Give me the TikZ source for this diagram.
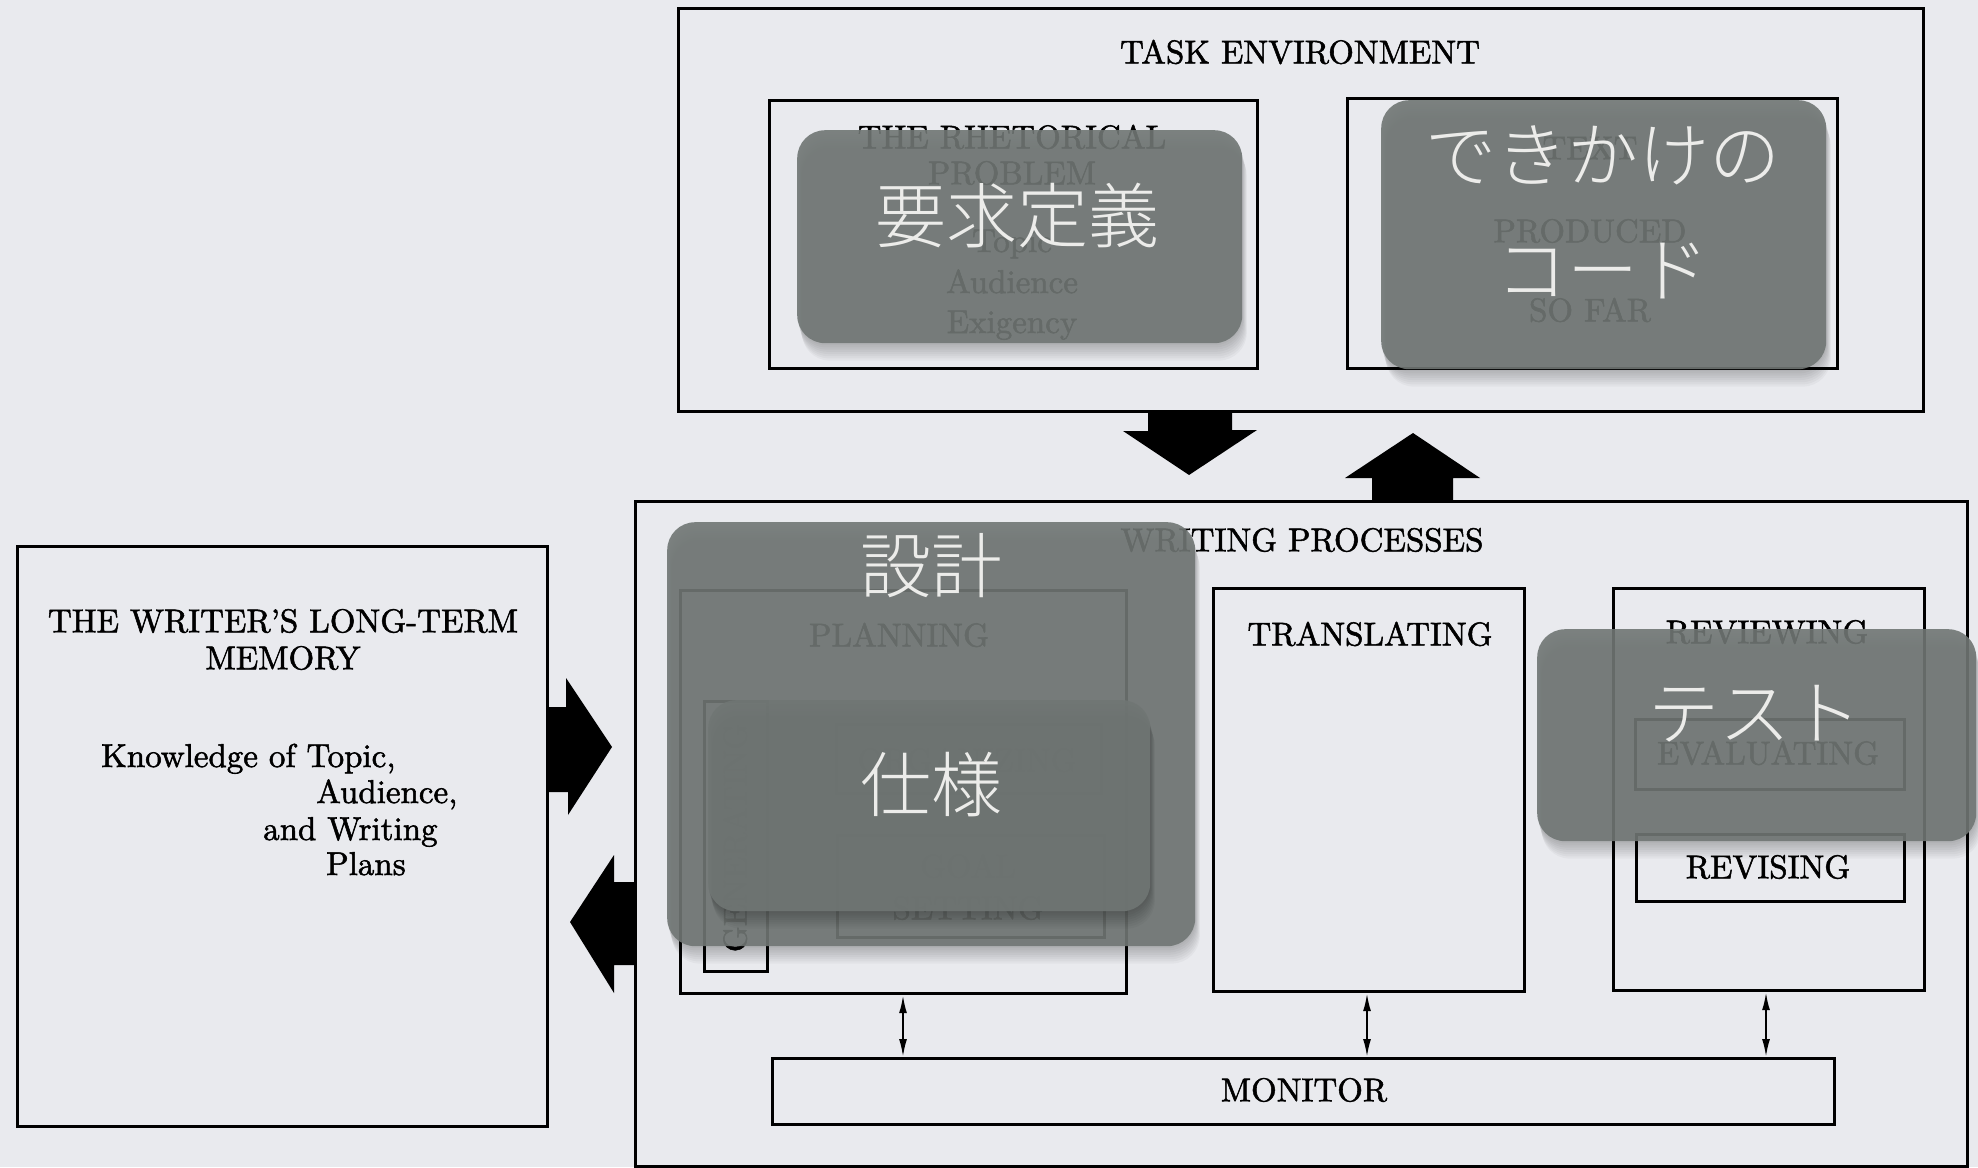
\documentclass[tikz,border=0pt]{standalone}
\usepackage{fontspec}
\IfFontExistsTF{Noto Sans CJK JP Light}{\newfontfamily\jpfont{Noto Sans CJK JP Light}}{\newfontfamily\jpfont{Noto Sans CJK JP}}
\newfontfamily\lblfont{lmroman10-regular.otf}[Ligatures=TeX, FakeBold=1.6]
\usetikzlibrary{arrows.meta}
\definecolor{bgc}{RGB}{233,234,238}
\definecolor{ovc}{RGB}{112,118,116}
\definecolor{jpc}{RGB}{236,236,234}
\tikzset{
 diagbox/.style={draw=black, line width=3.2pt, inner sep=0pt, anchor=north west},
 lbl/.style={font=\lblfont\fontsize{33}{40}\selectfont, text=black, inner sep=0pt},
 ovbox/.style={fill=ovc, fill opacity=0.9, draw=none, rounded corners=28pt, inner sep=0pt, anchor=north west},
 jp/.style={font=\jpfont\fontsize{71}{115}\selectfont, text=jpc, align=center, inner sep=0pt},
 blockarrow/.style={fill=black},
 monlink/.style={{Latex[length=18pt,width=8pt]}-{Latex[length=18pt,width=8pt]}, line width=2pt},
}
\newcommand\mkbox[6][diagbox]{\node[#1, minimum width={(#5-#3)*1pt}, minimum height={(#6-#4)*1pt}] (#2) at (#3,#4) {};}
\newcommand\softshadow[4]{\foreach \k in {1,...,8}{\fill[black, opacity=0.03, rounded corners=28pt] ({#1+\k*0.6},{#2+\k*2.2}) rectangle ({#3+\k*0.6},{#4+\k*2.2});}}
\begin{document}
\begin{tikzpicture}[x=1pt, y=-1pt]
\useasboundingbox (0,0) rectangle (1978,1167);
\fill[bgc] (0,0) rectangle (1978,1167);

% ---------- task environment ----------
\mkbox{te}{677}{7}{1922}{410}
\node[lbl] (telbl) at (1300,52) {TASK ENVIRONMENT};
\mkbox{rp}{768}{99}{1256}{367}
\node[lbl] (rp1) at (1012,137) {THE RHETORICAL};
\node[lbl] (rp2) at (1012,173) {PROBLEM};
\node[lbl, anchor=base] (rp3) at (1012,252) {Topic};
\node[lbl, anchor=base] (rp4) at (1012,293) {Audience};
\node[lbl, anchor=base] (rp5) at (1012,333) {Exigency};
\mkbox{tp}{1346}{97}{1836}{367}
\node[lbl] (tp1) at (1590,148) {TEXT};
\node[lbl] (tp2) at (1590,231) {PRODUCED};
\node[lbl] (tp3) at (1590,310) {SO FAR};

% ---------- long-term memory ----------
\mkbox{ltm}{16}{545}{546}{1125}
\node[lbl] (ltm1) at (283,621) {THE WRITER'S LONG-TERM};
\node[lbl] (ltm2) at (283,658) {MEMORY};
\node[lbl, anchor=base west] (ltm3) at (101,767) {Knowledge of Topic,};
\node[lbl, anchor=base west] (ltm4) at (316,803) {Audience,};
\node[lbl, anchor=base west] (ltm5) at (263,840) {and Writing};
\node[lbl, anchor=base west] (ltm6) at (326,875) {Plans};

% ---------- writing processes ----------
\mkbox{wp}{634}{500}{1966}{1165}
\node[lbl] (wplbl) at (1302,540) {WRITING PROCESSES};
\mkbox{plan}{679}{589}{1125}{992}
\node[lbl] (planlbl) at (899,635) {PLANNING};
\mkbox{gen}{703}{700}{766}{970}
\node[lbl, rotate=90] (genlbl) at (735,838) {GENERATING};
\mkbox{org}{835}{723}{1100}{792}
\node[lbl] (orglbl) at (967,760) {ORGANIZING};
\mkbox{goal}{836}{834}{1103}{936}
\node[lbl] (goal1) at (968,866) {GOAL};
\node[lbl] (goal2) at (968,908) {SETTING};
\mkbox{trans}{1212}{587}{1523}{990}
\node[lbl] (translbl) at (1370,634) {TRANSLATING};
\mkbox{rev}{1612}{587}{1923}{989}
\node[lbl] (revlbl) at (1767,632) {REVIEWING};
\mkbox{eval}{1634}{718}{1903}{788}
\node[lbl] (evallbl) at (1768,753) {EVALUATING};
\mkbox{revis}{1635}{833}{1903}{900}
\node[lbl] (revislbl) at (1768,867) {REVISING};
\mkbox{mon}{771}{1057}{1833}{1123}
\node[lbl] (monlbl) at (1304,1090) {MONITOR};

% monitor links
\coordinate (m1) at (903,0);
\coordinate (m2) at (1367,0);
\coordinate (m3) at (1766,0);
\draw[monlink] (plan.south -| m1) -- (mon.north -| m1);
\draw[monlink] (trans.south -| m2) -- (mon.north -| m2);
\draw[monlink] (rev.south -| m3) -- (mon.north -| m3);

% block arrows
\fill[blockarrow] (1148,410) -- (1232,410) -- (1232,430) -- (1257,430) -- (1189,475) -- (1123,431) -- (1148,431) -- cycle;
\fill[blockarrow] (1372,500) -- (1453,500) -- (1453,478) -- (1480,478) -- (1413,433) -- (1345,478) -- (1372,478) -- cycle;
\fill[blockarrow] (546,707) -- (566,707) -- (566,678) -- (612,747) -- (568,815) -- (568,792) -- (546,792) -- cycle;
\fill[blockarrow] (634,882) -- (614,882) -- (614,855) -- (570,922) -- (614,993) -- (614,965) -- (634,965) -- cycle;

% ---------- overlays ----------
\softshadow{797}{130}{1242}{343}
\mkbox[ovbox]{ovA}{797}{130}{1242}{343}
\softshadow{1381}{100}{1826}{369}
\mkbox[ovbox]{ovB}{1381}{100}{1826}{369}
\softshadow{667}{522}{1195}{946}
\mkbox[ovbox]{ovC}{667}{522}{1195}{946}
\softshadow{708}{700}{1150}{911}
\mkbox[ovbox]{ovD}{708}{700}{1150}{911}
\softshadow{1537}{629}{1976}{841}
\mkbox[ovbox]{ovE}{1537}{629}{1976}{841}

\node[jp] (jpA) at (1017,216) {要求定義};
\node[jp] (jpB) at (1603,212) {できかけの\\コード};
\node[jp] (jpC) at (931,566) {設計};
\node[jp] (jpD) at (931,785) {仕様};
\node[jp] (jpE) at (1755,714) {テスト};
\end{tikzpicture}
\end{document}
